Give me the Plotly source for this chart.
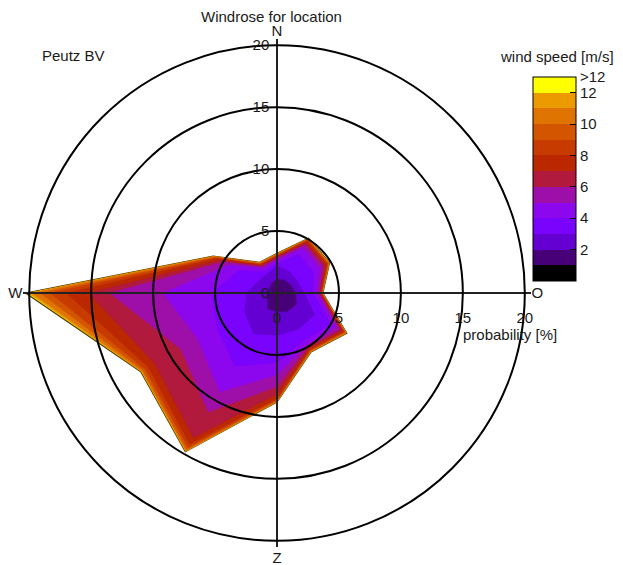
import numpy as np
import plotly.graph_objects as go

# Wind directions (degrees, clockwise from north) and speed classes
directions = [0, 30, 60, 90, 120, 150, 180, 210, 240, 270, 300, 330]
compass_ticks = [0, 90, 180, 270]
compass_labels = ["N", "O", "Z", "W"]
ring_values = [0, 5, 10, 15, 20]
speed_edges = [0, 1, 2, 3, 4, 5, 6, 7, 8, 9, 10, 11, 12, 13]
speed_tickvals = [2, 4, 6, 8, 10, 12, 13]
speed_ticktext = ["2", "4", "6", "8", "10", "12", ">12"]

# Probability [%] per direction for each wind speed class
p_0_1 = [0.10, 0.10, 0.10, 0.10, 0.10, 0.10, 0.10, 0.10, 0.10, 0.10, 0.10, 0.10]
p_1_2 = [1.00, 1.10, 1.20, 1.40, 1.70, 1.60, 1.40, 1.40, 0.80, 0.50, 0.60, 0.80]
p_2_3 = [1.10, 0.80, 0.60, 0.70, 1.70, 1.70, 1.90, 2.30, 2.10, 1.85, 1.10, 0.80]
p_3_4 = [0.20, 1.60, 1.50, 0.70, 1.50, 1.00, 2.20, 3.00, 2.60, 2.75, 1.80, 0.30]
p_4_5 = [0.25, 0.60, 0.60, 0.30, 0.50, 0.40, 1.00, 2.40, 1.80, 4.00, 0.90, 0.30]
p_5_6 = [0.15, 0.30, 0.30, 0.20, 0.35, 0.20, 0.95, 1.90, 1.60, 4.30, 0.50, 0.15]
p_6_7 = [0.10, 0.20, 0.20, 0.10, 0.20, 0.15, 0.60, 2.38, 2.40, 1.70, 0.30, 0.10]
p_7_8 = [0.10, 0.15, 0.15, 0.05, 0.15, 0.12, 0.35, 0.60, 0.58, 1.80, 0.25, 0.10]
p_8_9 = [0.05, 0.10, 0.10, 0.05, 0.10, 0.08, 0.12, 0.30, 0.30, 1.30, 0.15, 0.05]
p_9_10 = [0.05, 0.05, 0.05, 0.03, 0.08, 0.05, 0.08, 0.20, 0.20, 0.80, 0.10, 0.05]
p_10_11 = [0.05, 0.05, 0.05, 0.03, 0.05, 0.04, 0.05, 0.12, 0.12, 0.70, 0.08, 0.05]
p_11_12 = [0.03, 0.03, 0.03, 0.02, 0.04, 0.03, 0.03, 0.06, 0.06, 0.30, 0.05, 0.03]
p_gt_12 = [0.02, 0.02, 0.02, 0.02, 0.03, 0.03, 0.02, 0.04, 0.04, 0.20, 0.02, 0.02]

class_colors = ["#000000", "#470077", "#6401d2", "#7a03fd", "#8d07ee", "#9e0fa9",
                "#b1193d", "#bb2800", "#c83b00", "#d45500", "#e07400", "#eb9b00",
                "#ffff00"]

FONT = "Liberation Sans, Arial, sans-serif"
TXT = "#1a1a1a"

classes = np.array([p_0_1, p_1_2, p_2_3, p_3_4, p_4_5, p_5_6, p_6_7, p_7_8,
                    p_8_9, p_9_10, p_10_11, p_11_12, p_gt_12])
cumulative = np.cumsum(classes, axis=0)
theta_closed = directions + [directions[0]]

fig = go.Figure()

# Stacked speed classes: outermost (all speeds) first, calm last on top
n_cls = len(class_colors)
for k in range(n_cls - 1, -1, -1):
    r = list(cumulative[k]) + [cumulative[k][0]]
    outer = k == n_cls - 1
    fig.add_trace(go.Scatterpolar(
        r=r, theta=theta_closed, mode="lines", fill="toself",
        fillcolor=class_colors[k],
        line=dict(color="#4a3a00" if outer else class_colors[k],
                  width=1.2 if outer else 0.5),
        hoverinfo="skip", showlegend=False, subplot="polar"))

# Discrete colour scale for the speed legend
cscale = []
n_bins = len(speed_edges) - 1
for i, c in enumerate(class_colors):
    cscale.append([i / n_bins, c])
    cscale.append([(i + 1) / n_bins, c])

fig.add_trace(go.Scatterpolar(
    r=[0], theta=[0], mode="markers", subplot="polar2",
    marker=dict(size=1, opacity=0, color=[speed_edges[0]], colorscale=cscale,
                cmin=speed_edges[0], cmax=speed_edges[-1], showscale=True,
                colorbar=dict(
                    x=533 / 623, xanchor="left", xpad=0,
                    y=1 - 77 / 565, yanchor="top", ypad=0,
                    len=204, lenmode="pixels",
                    thickness=43, thicknessmode="pixels",
                    outlinecolor="#000", outlinewidth=1,
                    tickvals=speed_tickvals, ticktext=speed_ticktext,
                    ticks="inside", ticklen=6, tickcolor="#000", tickwidth=1,
                    tickfont=dict(family=FONT, size=15, color=TXT))),
    hoverinfo="skip", showlegend=False))

W, H = 623, 565
cx, cy, R = 277, 293, 254
dom_x = [(cx - R) / W, (cx + R) / W]
dom_y = [1 - (cy + R) / H, 1 - (cy - R) / H]
rmax = 20.5

fig.update_layout(
    width=W, height=H, margin=dict(l=0, r=0, t=0, b=0),
    paper_bgcolor="white", plot_bgcolor="white",
    font=dict(family=FONT, size=15, color=TXT),
    polar=dict(
        domain=dict(x=dom_x, y=dom_y), bgcolor="white",
        radialaxis=dict(range=[0, rmax], angle=0, side="clockwise",
                        tickvals=ring_values, showgrid=False, showline=False,
                        ticks="outside", ticklen=11, tickcolor="rgba(0,0,0,0)",
                        tickfont=dict(size=15, color=TXT)),
        angularaxis=dict(rotation=90, direction="clockwise",
                         tickvals=compass_ticks, ticktext=compass_labels,
                         showgrid=False, showline=False, ticks="",
                         tickfont=dict(size=15, color=TXT))),
    polar2=dict(
        domain=dict(x=dom_x, y=dom_y), bgcolor="rgba(0,0,0,0)",
        radialaxis=dict(range=[0, rmax], angle=90, side="counterclockwise",
                        tickvals=ring_values, tickangle=90,
                        showgrid=True, gridcolor="#000",
                        gridwidth=2, showline=False,
                        ticks="outside", ticklen=2, tickcolor="rgba(0,0,0,0)",
                        tickfont=dict(size=15, color=TXT)),
        angularaxis=dict(rotation=90, direction="clockwise",
                         tickvals=compass_ticks, showticklabels=False,
                         showgrid=True, gridcolor="#222", gridwidth=1.5,
                         showline=False, ticks="")),
    annotations=[
        dict(text="Windrose for location", x=271 / W, y=1 - 17 / H,
             xref="paper", yref="paper", showarrow=False,
             xanchor="center", yanchor="middle", font=dict(size=15)),
        dict(text="Peutz BV", x=73 / W, y=1 - 55 / H,
             xref="paper", yref="paper", showarrow=False,
             xanchor="center", yanchor="middle", font=dict(size=15)),
        dict(text="wind speed [m/s]", x=557 / W, y=1 - 56 / H,
             xref="paper", yref="paper", showarrow=False,
             xanchor="center", yanchor="middle", font=dict(size=15)),
        dict(text="probability [%]", x=510 / W, y=1 - 334 / H,
             xref="paper", yref="paper", showarrow=False,
             xanchor="center", yanchor="middle", font=dict(size=15)),
    ],
)

fig.write_html("out.html")
